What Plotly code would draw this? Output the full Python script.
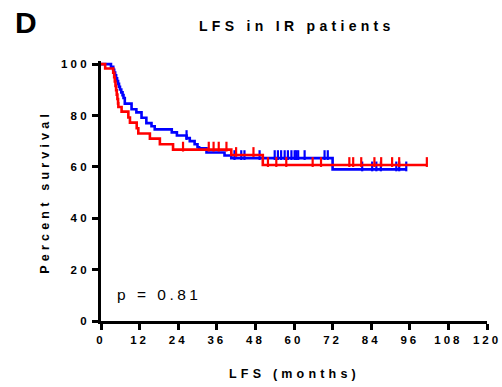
import numpy as np
import plotly.graph_objects as go

# Kaplan-Meier step data: event times (months) and survival (%) after each step
blue_t = [0, 3.1, 3.8, 4.1, 4.4, 4.7, 5.0, 5.3, 5.6, 5.9, 6.3, 6.7, 7.0, 7.4, 9.5, 11.0,
          12.6, 14.1, 15.7, 16.7, 22.0, 23.6, 26.6, 27.6, 29.1, 30.0, 30.5, 32.8, 38.4,
          40.5, 72.0, 94.9]
blue_s = [100, 98.9, 97.8, 96.7, 95.6, 94.5, 93.4, 92.3, 91.2, 90.1, 89.0, 87.9, 86.8,
          84.6, 82.4, 81.2, 79.1, 77.0, 75.8, 74.6, 73.4, 72.2, 71.2, 70.0, 68.8, 67.6,
          67.2, 65.6, 64.4, 63.4, 59.0, 59.0]
blue_censored = [26.6, 41.5, 43.6, 44.6, 49.3, 54.0, 55.0, 56.0, 57.1, 58.1, 59.2, 60.2,
                 60.7, 61.3, 63.3, 69.5, 70.5, 81.2, 84.3, 85.6, 87.0, 91.8, 92.7, 94.9]

red_t = [0, 1.3, 3.8, 4.1, 4.3, 4.5, 4.7, 4.9, 5.1, 5.3, 5.4, 6.4, 8.5, 9.0, 11.1, 11.6,
         15.2, 18.3, 22.4, 40.5, 50.3, 101.3]
red_s = [100, 98.3, 96.6, 94.9, 93.2, 91.5, 89.8, 88.1, 86.4, 84.7, 83.3, 81.5, 79.2,
         77.2, 75.0, 73.0, 71.0, 68.8, 66.7, 64.6, 60.7, 60.7]
red_censored = [25.5, 33.5, 35.0, 36.6, 39.0, 42.0, 47.4, 51.9, 54.5, 57.6, 65.8, 68.4,
                77.2, 78.4, 80.9, 85.0, 87.1, 90.5, 92.7, 101.3]

x_ticks = [0, 12, 24, 36, 48, 60, 72, 84, 96, 108, 120]
y_ticks = [0, 20, 40, 60, 80, 100]
p_label = "p = 0.81"

FONT = "Liberation Sans, Arial, sans-serif"
Y_MAX = 101.2
PLOT_H = 260  # px
TICK_RISE = 3.0 * Y_MAX / PLOT_H  # lift censor ticks so they sit on top of the line


def spaced(text, px):
    return f"<span style='letter-spacing:{px}px'>{text}</span>"


def survival_at(times, surv, t):
    idx = np.searchsorted(np.asarray(times), np.asarray(t), side="right") - 1
    return np.asarray(surv)[idx]


fig = go.Figure()
for times, surv, cens, color in [(blue_t, blue_s, blue_censored, "#0000FF"),
                                 (red_t, red_s, red_censored, "#FF0000")]:
    fig.add_trace(go.Scatter(x=times, y=surv, mode="lines", line_shape="hv",
                             line=dict(color=color, width=2.6), showlegend=False,
                             hoverinfo="skip"))
    fig.add_trace(go.Scatter(x=cens, y=survival_at(times, surv, cens) + TICK_RISE,
                             mode="markers", showlegend=False, hoverinfo="skip",
                             marker=dict(symbol="line-ns", size=7,
                                         line=dict(color=color, width=2.2))))

axis_common = dict(showgrid=False, zeroline=False, showline=True, linecolor="black",
                   linewidth=2.8, ticks="outside", ticklen=6, tickwidth=2.5,
                   tickcolor="black", automargin=False,
                   tickfont=dict(family=FONT, size=11.5, color="black", weight="bold"))

fig.update_xaxes(range=[0, 120], tickvals=x_ticks,
                 ticktext=[spaced(v, 3) for v in x_ticks], **axis_common)
fig.update_yaxes(range=[0, Y_MAX], tickvals=y_ticks,
                 ticktext=[spaced(v, 3.2) for v in y_ticks], **axis_common)

text_common = dict(showarrow=False, xanchor="center", yanchor="middle")
fig.add_annotation(text=spaced("LFS in IR patients", 4.3), xref="paper", yref="paper",
                   x=0.507, y=1.134, **text_common,
                   font=dict(family=FONT, size=14, color="black", weight="bold"))
fig.add_annotation(text="D", xref="paper", yref="paper", x=-0.194, y=1.148,
                   **text_common,
                   font=dict(family=FONT, size=30, color="black", weight="bold"))
fig.add_annotation(text=spaced("LFS (months)", 4.2), xref="paper", yref="paper",
                   x=0.5, y=-0.203, **text_common,
                   font=dict(family=FONT, size=12.5, color="black", weight="bold"))
fig.add_annotation(text=spaced("Percent survival", 4.2), xref="paper", yref="paper",
                   x=-0.146, y=0.496, textangle=-90, **text_common,
                   font=dict(family=FONT, size=12.5, color="black", weight="bold"))
fig.add_annotation(text=spaced(p_label, 3.5), x=18.1, y=10.2, **text_common,
                   font=dict(family=FONT, size=15.5, color="black"))

fig.update_layout(width=502, height=387, margin=dict(l=101, r=15, t=61, b=66),
                  plot_bgcolor="white", paper_bgcolor="white")

fig.write_html("out.html")
